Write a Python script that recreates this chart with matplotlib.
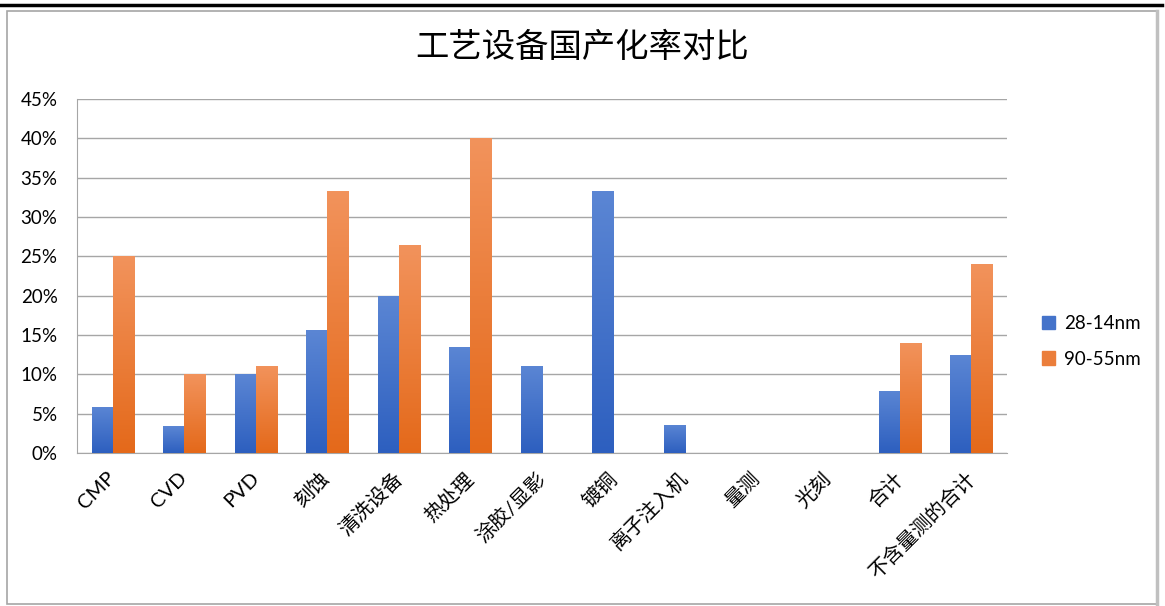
import numpy as np
import matplotlib
matplotlib.use("Agg")
import matplotlib.pyplot as plt
from matplotlib.colors import LinearSegmentedColormap
from matplotlib.lines import Line2D
from matplotlib.patches import Rectangle
from matplotlib.ticker import FuncFormatter

plt.rcParams['font.family'] = ['Lato', 'Noto Sans CJK SC', 'DejaVu Sans']

categories = ["CMP", "CVD", "PVD", "刻蚀", "清洗设备", "热处理", "涂胶/显影",
              "镀铜", "离子注入机", "量测", "光刻", "合计", "不含量测的合计"]
series_names = ["28-14nm", "90-55nm"]
vals_28_14 = [5.9, 3.4, 10.0, 15.6, 20.0, 13.5, 11.1, 33.3, 3.6, 0, 0, 7.9, 12.5]
vals_90_55 = [25.0, 10.0, 11.1, 33.3, 26.4, 40.0, 0, 0, 0, 0, 0, 14.0, 24.0]

blue_cmap = LinearSegmentedColormap.from_list("b", ["#2d5fbf", "#5b86d4"])
orange_cmap = LinearSegmentedColormap.from_list("o", ["#e4691a", "#f2935c"])

fig = plt.figure(figsize=(11.65, 6.06), dpi=100)
ax = fig.add_axes([0.0661, 0.2525, 0.7983, 0.5841])

x = np.arange(len(categories))
w = 0.295
grad = np.linspace(0, 1, 256).reshape(-1, 1)

for vals, off, cmap, name in [(vals_28_14, -w / 2, blue_cmap, series_names[0]),
                              (vals_90_55, w / 2, orange_cmap, series_names[1])]:
    bars = ax.bar(x + off, [v / 100 for v in vals], width=w, color=cmap(0.5),
                  label=name, zorder=2)
    for b in bars:
        h = b.get_height()
        if h <= 0:
            continue
        bx = b.get_x()
        im = ax.imshow(grad, extent=[bx, bx + w, 0, h], origin='lower',
                       aspect='auto', cmap=cmap, zorder=3)
        im.set_clip_path(b)

ax.set_xlim(-0.5, len(categories) - 0.5)
ax.set_ylim(0, 0.45)
ax.set_yticks(np.arange(0, 0.46, 0.05))
ax.yaxis.set_major_formatter(FuncFormatter(lambda v, p: f"{v * 100:.0f}%"))
ax.grid(axis='y', color='#a6a6a6', linewidth=1)
ax.set_axisbelow(True)
for s in ['top', 'right']:
    ax.spines[s].set_visible(False)
for s in ['left', 'bottom']:
    ax.spines[s].set_color('#a6a6a6')
ax.tick_params(axis='y', length=0, labelsize=13.5, pad=14)
ax.set_xticks(x)
ax.set_xticklabels(categories, rotation=45, ha='right', va='center',
                   rotation_mode='anchor')
ax.tick_params(axis='x', length=0, labelsize=14.5, pad=16)

fig.suptitle("工艺设备国产化率对比", x=0.5, y=0.95, fontsize=24,
             family=['Noto Sans CJK SC'])

handles = [Rectangle((0, 0), 1, 1, color=blue_cmap(0.5)),
           Rectangle((0, 0), 1, 1, color=orange_cmap(0.5))]
fig.legend(handles, series_names, loc='center left',
           bbox_to_anchor=(0.88, 0.437), frameon=False, fontsize=13.5,
           handlelength=0.7, handleheight=0.7, labelspacing=1.0,
           handletextpad=0.45)

# outer frame and top rule
fig.add_artist(Rectangle((7 / 1165, 2 / 606), 1150 / 1165, 593 / 606,
                         transform=fig.transFigure, fill=False,
                         edgecolor='#a6a6a6', linewidth=1.2))
fig.add_artist(Line2D([1157 / 1165, 1157 / 1165], [2 / 606, 595 / 606],
                      transform=fig.transFigure, color='#c0c0c0', linewidth=2.5))
fig.add_artist(Line2D([0, 1162 / 1165], [1 - 4.5 / 606, 1 - 4.5 / 606],
                      transform=fig.transFigure, color='black', linewidth=2.5))

fig.savefig("out.png", dpi=100)
